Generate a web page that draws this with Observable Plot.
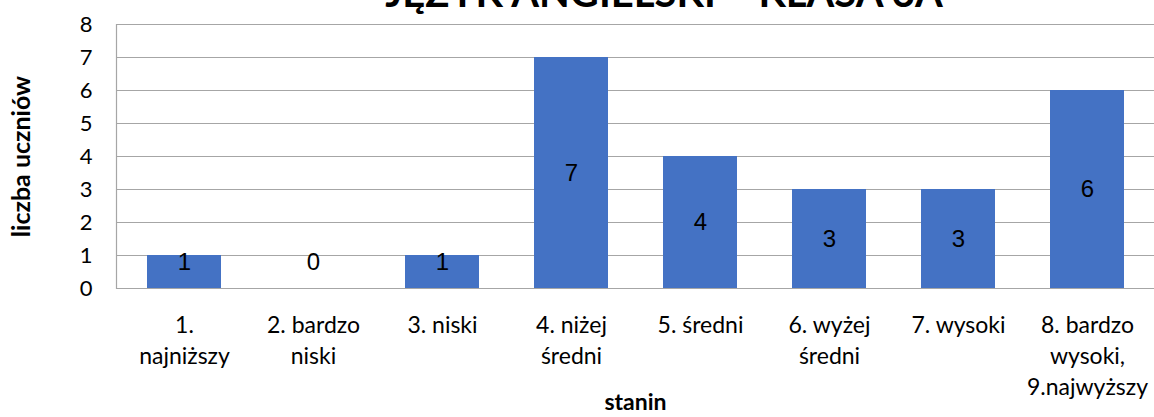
<!DOCTYPE html>
<html>
<head>
<meta charset="utf-8">
<script src="https://cdn.jsdelivr.net/npm/d3@7"></script>
<script src="https://cdn.jsdelivr.net/npm/@observablehq/plot@0.6"></script>
<style>
  html, body { margin: 0; padding: 0; background: #fff; overflow: hidden; }
  #wrap { position: relative; width: 1154px; height: 417px; overflow: hidden; }
  #title {
    position: absolute; left: 664px; top: -28px; transform: translateX(-50%);
    font-family: Lato, sans-serif; font-weight: 700; font-size: 40px; line-height: 40px;
    white-space: nowrap; color: #000;
  }
  #chart { position: absolute; left: 0; top: 0; }
  g[aria-label="y-axis label"] text { font-weight: 700; font-size: 25px; }
  g[aria-label="x-axis label"] text { font-weight: 700; font-size: 23px; }
</style>
</head>
<body>
<div id="wrap">
  <div id="chart"></div>
  <div id="title">JĘZYK ANGIELSKI – KLASA 3A</div>
</div>
<script>
const categories = ["1.\nnajniższy", "2. bardzo\nniski", "3. niski", "4. niżej\nśredni", "5. średni", "6. wyżej\nśredni", "7. wysoki", "8. bardzo\nwysoki,\n9.najwyższy"];
const counts = [1, 0, 1, 7, 4, 3, 3, 6];
const yTicks = [0, 1, 2, 3, 4, 5, 6, 7, 8];
const yLabel = "liczba uczniów";
const xLabel = "stanin";

const data = categories.map((c, i) => ({cat: c, v: counts[i]}));

const chart = Plot.plot({
  width: 1154,
  height: 417,
  marginLeft: 116,
  marginRight: 0,
  marginTop: 24,
  marginBottom: 129,
  style: {fontFamily: "Lato, sans-serif", fontSize: "18px", color: "#000", background: "#fff"},
  x: {domain: categories, paddingInner: 0.43, paddingOuter: 0.215},
  y: {domain: [0, 8]},
  marks: [
    Plot.gridY(yTicks, {stroke: "#a6a6a6", strokeOpacity: 1, strokeWidth: 1.2}),
    Plot.frame({anchor: "left", stroke: "#a6a6a6", strokeWidth: 1.2}),
    Plot.barY(data, {x: "cat", y: "v", fill: "#4472c4"}),
    Plot.text(data, {x: "cat", y: d => Math.max(d.v / 2, 0.79), text: d => String(d.v), fontFamily: "Liberation Sans, Arial, sans-serif", fontSize: 24, fill: "#000"}),
    Plot.axisY(yTicks, {tickSize: 0, tickPadding: 24, fontSize: 22, label: yLabel, labelAnchor: "center", labelOffset: 104, labelArrow: "none", fill: "#000"}),
    Plot.axisX({tickSize: 0, tickPadding: 22, lineHeight: 1.35, fontSize: 23, label: xLabel, labelAnchor: "center", labelOffset: 121, labelArrow: "none", fill: "#000"})
  ]
});
document.getElementById("chart").appendChild(chart);
</script>
</body>
</html>
